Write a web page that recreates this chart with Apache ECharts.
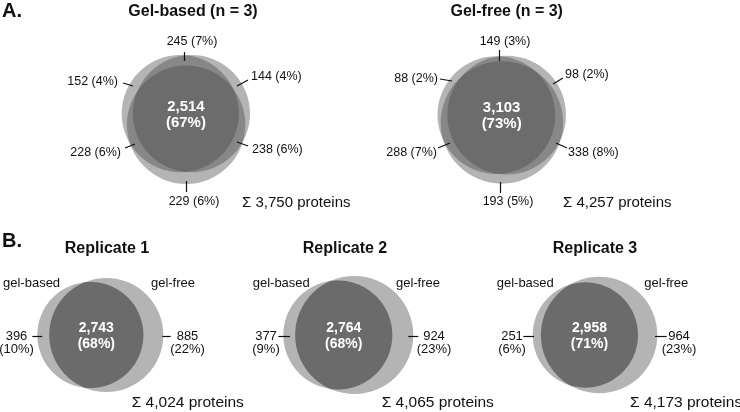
<!DOCTYPE html>
<html><head><meta charset="utf-8">
<script src="https://cdn.jsdelivr.net/npm/echarts@6/dist/echarts.min.js"></script>
<style>html,body{margin:0;padding:0;background:#fff}#c{width:740px;height:412px}</style>
</head><body><div id="c"></div>
<script>
// ---------------- data ----------------
const sectionLabels = ['A.', 'B.'];
const methodTitles = ['Gel-based (n = 3)', 'Gel-free (n = 3)'];
// region order: all three, R1∩R2, R1∩R3, R2∩R3, R1 only, R2 only, R3 only
const gelBasedRegions = [2514, 245, 228, 238, 152, 144, 229];
const gelBasedPercents = [67, 7, 6, 6, 4, 4, 6];
const gelFreeRegions = [3103, 149, 288, 338, 88, 98, 193];
const gelFreePercents = [73, 3, 7, 8, 2, 2, 5];
const replicateTitles = ['Replicate 1', 'Replicate 2', 'Replicate 3'];
const setNames = ['gel-based', 'gel-free'];
const sharedCounts = [2743, 2764, 2958];
const sharedPercents = [68, 68, 71];
const gelBasedOnlyCounts = [396, 377, 251];
const gelBasedOnlyPercents = [10, 9, 6];
const gelFreeOnlyCounts = [885, 924, 964];
const gelFreeOnlyPercents = [22, 23, 23];

// ---------------- layout / style ----------------
const FONT = '"Liberation Sans", Arial, Helvetica, sans-serif';
const LIGHT = '#b4b4b4', DARK = '#6b6b6b', LAYER = 'rgba(68,68,68,0.4)';
const L = {
  top: [
    { box: [121.7, 55, 250, 184], title: [193, 11.5], sigma: [242, 202.5],
      ticks: [[184.5,52,184.5,61],[125,148,135,144],[248,146,237,142],[123,83,133,86],[248,80,237,86],[186.5,181,186.5,192]],
      texts: [[192,42,'center'],[121,153,'right'],[252,150,'left'],[118,82,'right'],[251,77,'left'],[194,202,'center']] },
    { box: [437.5, 55, 566, 184.5], title: [506.7, 11.5], sigma: [563, 202.5],
      ticks: [[499.5,50,499.5,61],[438,148,450,143],[567,148,556,143],[440,79,452,81],[563,78,553,84],[500.5,182,500.5,193]],
      texts: [[505,42,'center'],[437,153,'right'],[568,153,'left'],[438,79,'right'],[565,75,'left'],[508,202,'center']] }
  ],
  bottom: [
    { span: [37.3, 163.3], cy: 335, title: 107, names: [3, 195], leftTick: [32.3, 42.3], rightTick: [162.3, 170.7], leftText: 16.5, rightText: 187.5, sigma: 131.7 },
    { span: [283.3, 413.3], cy: 335, title: 345, names: [252.7, 440], leftTick: [278.3, 290], rightTick: [408.3, 418.3], leftText: 266, rightText: 434, sigma: 381.7 },
    { span: [532.7, 657.3], cy: 335, title: 595, names: [496.7, 688.3], leftTick: [523.3, 534], rightTick: [655, 666.7], leftText: 512, rightText: 679, sigma: 630 }
  ],
  letters: [[2, 11.5], [2, 241.5]],
  titleY: 248.5, namesY: 283, tickY: 336.5, sideTextY: 343, sigmaY: 402.5
};

// ---------------- area-proportional Venn geometry ----------------
function lensArea(r1, r2, d) {
  if (d >= r1 + r2) return 0;
  if (d <= Math.abs(r1 - r2)) return Math.PI * Math.min(r1, r2) ** 2;
  const a = r1 * r1 * Math.acos((d * d + r1 * r1 - r2 * r2) / (2 * d * r1));
  const b = r2 * r2 * Math.acos((d * d + r2 * r2 - r1 * r1) / (2 * d * r2));
  const c = 0.5 * Math.sqrt((-d + r1 + r2) * (d + r1 - r2) * (d - r1 + r2) * (d + r1 + r2));
  return a + b - c;
}
function distanceFor(r1, r2, overlap) {
  let lo = Math.abs(r1 - r2), hi = r1 + r2;
  for (let i = 0; i < 80; i++) {
    const m = (lo + hi) / 2;
    if (lensArea(r1, r2, m) > overlap) lo = m; else hi = m;
  }
  return (lo + hi) / 2;
}
function fitCircles(pts, r, box) {
  const minX = Math.min(...pts.map((p, i) => p[0] - r[i])), maxX = Math.max(...pts.map((p, i) => p[0] + r[i]));
  const minY = Math.min(...pts.map((p, i) => p[1] - r[i])), maxY = Math.max(...pts.map((p, i) => p[1] + r[i]));
  const s = (box[2] - box[0]) / (maxX - minX);
  const ox = (box[0] + box[2]) / 2 - s * (minX + maxX) / 2;
  const oy = (box[1] + box[3]) / 2 - s * (minY + maxY) / 2;
  return pts.map((p, i) => [ox + s * p[0], oy + s * p[1], s * r[i]]);
}
function tripleCircles(reg, box) {
  const [all, p12, p13, p23, s1, s2, s3] = reg;
  const n = [all + p12 + p13 + s1, all + p12 + p23 + s2, all + p13 + p23 + s3];
  const r = n.map(v => Math.sqrt(v / Math.PI));
  const d12 = distanceFor(r[0], r[1], all + p12);
  const d13 = distanceFor(r[0], r[2], all + p13);
  const d23 = distanceFor(r[1], r[2], all + p23);
  const x3 = (d13 * d13 - d23 * d23 + d12 * d12) / (2 * d12);
  const y3 = Math.sqrt(Math.max(0, d13 * d13 - x3 * x3));
  return fitCircles([[0, 0], [d12, 0], [x3, y3]], r, box);
}
const fmt = v => v.toLocaleString('en-US');
const sum = a => a.reduce((s, v) => s + v, 0);

// ---------------- build marks ----------------
const layeredCircles = [], lightCircles = [], lenses = [], leaders = [], texts = [];
const T = (x, y, text, size, opts) => texts.push(Object.assign({ x, y, text, size, weight: 'normal', align: 'left', fill: '#111', lh: size + 1 }, opts || {}));

sectionLabels.forEach((s, i) => T(L.letters[i][0], L.letters[i][1], s, 20, { weight: 'bold' }));

[[gelBasedRegions, gelBasedPercents], [gelFreeRegions, gelFreePercents]].forEach(([reg, pct], k) => {
  const lay = L.top[k];
  const circ = tripleCircles(reg, lay.box);
  circ.forEach(c => layeredCircles.push(c));
  T(lay.title[0], lay.title[1], methodTitles[k], 16, { weight: 'bold', align: 'center' });
  const cx = (circ[0][0] + circ[1][0] + circ[2][0]) / 3, cy = (circ[0][1] + circ[1][1] + circ[2][1]) / 3;
  T(cx, cy - 2, fmt(reg[0]) + '\n(' + pct[0] + '%)', 15, { weight: 'bold', align: 'center', fill: '#fff', lh: 16 });
  for (let j = 1; j < 7; j++) {
    leaders.push(lay.ticks[j - 1]);
    const t = lay.texts[j - 1];
    T(t[0], t[1], fmt(reg[j]) + ' (' + pct[j] + '%)', 12.5, { align: t[2] });
  }
  T(lay.sigma[0], lay.sigma[1], 'Σ ' + fmt(sum(reg)) + ' proteins', 15);
});

replicateTitles.forEach((title, i) => {
  const lay = L.bottom[i];
  const A = gelBasedOnlyCounts[i] + sharedCounts[i], B = gelFreeOnlyCounts[i] + sharedCounts[i];
  const rA = Math.sqrt(A / Math.PI), rB = Math.sqrt(B / Math.PI);
  const d = distanceFor(rA, rB, sharedCounts[i]);
  const c = fitCircles([[0, 0], [d, 0]], [rA, rB], [lay.span[0], lay.cy, lay.span[1], lay.cy]);
  lightCircles.push(c[0], c[1]);
  lenses.push([c[0][0], c[0][1], c[0][2], c[1][0], c[1][2]]);
  T(lay.title, L.titleY, title, 16, { weight: 'bold', align: 'center' });
  T(lay.names[0], L.namesY, setNames[0], 13);
  T(lay.names[1], L.namesY, setNames[1], 13, { align: 'right' });
  const lensMid = ((c[1][0] - c[1][2]) + (c[0][0] + c[0][2])) / 2;
  T(lensMid, lay.cy + 1, fmt(sharedCounts[i]) + '\n(' + sharedPercents[i] + '%)', 14, { weight: 'bold', align: 'center', fill: '#fff', lh: 16 });
  leaders.push([lay.leftTick[0], L.tickY, lay.leftTick[1], L.tickY]);
  leaders.push([lay.rightTick[0], L.tickY, lay.rightTick[1], L.tickY]);
  T(lay.leftText, L.sideTextY, fmt(gelBasedOnlyCounts[i]) + '\n(' + gelBasedOnlyPercents[i] + '%)', 13, { align: 'center', lh: 13 });
  T(lay.rightText, L.sideTextY, fmt(gelFreeOnlyCounts[i]) + '\n(' + gelFreeOnlyPercents[i] + '%)', 13, { align: 'center', lh: 13 });
  T(lay.sigma, L.sigmaY, 'Σ ' + fmt(sharedCounts[i] + gelBasedOnlyCounts[i] + gelFreeOnlyCounts[i]) + ' proteins', 15.5);
});

// ---------------- chart ----------------
const chart = echarts.init(document.getElementById('c'), null, { renderer: 'canvas' });
const pt = (api, x, y) => api.coord([x, y]);
const radius = (api, r) => api.size([r, 0])[0];

chart.setOption({
  animation: false,
  backgroundColor: '#fff',
  grid: { left: 0, right: 0, top: 0, bottom: 0 },
  xAxis: { type: 'value', min: 0, max: 740, show: false },
  yAxis: { type: 'value', min: 0, max: 412, inverse: true, show: false },
  series: [
    { type: 'custom', name: 'replicate circles', silent: true, data: lightCircles,
      renderItem: (p, api) => {
        const c = pt(api, api.value(0), api.value(1));
        return { type: 'circle', shape: { cx: c[0], cy: c[1], r: radius(api, api.value(2)) }, style: { fill: LIGHT } };
      } },
    { type: 'custom', name: 'shared lens', silent: true, data: lenses,
      renderItem: (p, api) => {
        const xa = api.value(0), y = api.value(1), ra = api.value(2), xb = api.value(3), rb = api.value(4);
        const d = xb - xa;
        const xi = xa + (d * d + ra * ra - rb * rb) / (2 * d);
        const h = Math.sqrt(Math.max(0, ra * ra - (xi - xa) * (xi - xa)));
        const tA = Math.atan2(h, xi - xa), tB = Math.atan2(h, xb - xi);
        const pts = [], N = 120;
        for (let k = 0; k <= N; k++) { const t = -tA + 2 * tA * k / N; pts.push(pt(api, xa + ra * Math.cos(t), y + ra * Math.sin(t))); }
        for (let k = 0; k <= N; k++) { const t = Math.PI - tB + 2 * tB * k / N; pts.push(pt(api, xb + rb * Math.cos(t), y + rb * Math.sin(t))); }
        return { type: 'polygon', shape: { points: pts }, style: { fill: DARK } };
      } },
    { type: 'custom', name: 'method circles', silent: true, data: layeredCircles,
      renderItem: (p, api) => {
        const c = pt(api, api.value(0), api.value(1));
        return { type: 'circle', shape: { cx: c[0], cy: c[1], r: radius(api, api.value(2)) }, style: { fill: LAYER } };
      } },
    { type: 'custom', name: 'leaders', silent: true, data: leaders,
      renderItem: (p, api) => {
        const a = pt(api, api.value(0), api.value(1)), b = pt(api, api.value(2), api.value(3));
        return { type: 'line', shape: { x1: a[0], y1: a[1], x2: b[0], y2: b[1] }, style: { stroke: '#111', lineWidth: 1.2 } };
      } },
    { type: 'custom', name: 'texts', silent: true, data: texts.map(t => [t.x, t.y]),
      renderItem: (p, api) => {
        const t = texts[p.dataIndex];
        const c = pt(api, api.value(0), api.value(1));
        return { type: 'text', x: c[0], y: c[1], style: {
          text: t.text, fill: t.fill, align: t.align, verticalAlign: 'middle',
          font: t.weight + ' ' + t.size + 'px ' + FONT, lineHeight: t.lh } };
      } }
  ]
});
</script></body></html>
